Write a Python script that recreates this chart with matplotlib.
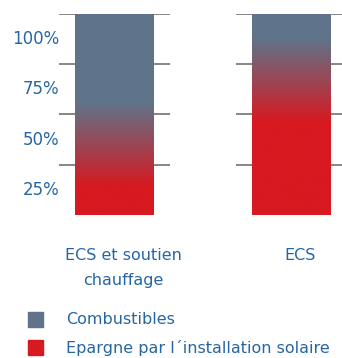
import matplotlib
matplotlib.use("Agg")
import matplotlib.pyplot as plt
import numpy as np
from matplotlib.patches import Rectangle

# share of the need covered by the solar system (%), per installation type
categories = ["ECS et soutien\nchauffage", "ECS"]
solar_share = [35, 67]
blend = [21, 21]          # half-width of the colour fade around the boundary
tick_values = [25, 50, 75, 100]
tick_labels = ["25%", "50%", "75%", "100%"]
legend_labels = ["Combustibles", "Epargne par l\u00b4installation solaire"]

blue = np.array([0x5f, 0x74, 0x8a]) / 255
red = np.array([0xd7, 0x19, 0x20]) / 255
text_col = "#2766a3"
grid_col = "#7d7d7d"

fig = plt.figure(figsize=(3.42, 3.58), dpi=100)
ax = fig.add_axes([0, 1 - 215 / 358, 1, 201 / 358])
ax.set_xlim(-0.647, 1.285)
ax.set_ylim(0, 100)
ax.axis("off")

bar_w = 0.446
y = np.linspace(0, 100, 400)
for i, (s, b) in enumerate(zip(solar_share, blend)):
    # grid segments around each bar
    for v in tick_values:
        ax.plot([i - 0.316, i + 0.316], [v, v], color=grid_col, lw=1.3, zorder=1,
                solid_capstyle="butt")
    t = np.clip((y - (s - b)) / (2 * b), 0, 1)[:, None]
    col = red * (1 - t) + blue * t
    img = np.repeat(col[:, None, :], 2, axis=1)
    ax.imshow(img, extent=[i - bar_w / 2, i + bar_w / 2, 0, 100], origin="lower",
              aspect="auto", interpolation="bilinear", zorder=2)
    ax.text(i + 0.048, -16.5, categories[i], ha="center", va="top", fontsize=11.5,
            color=text_col, linespacing=1.85)

# y labels sit between grid lines
for v, lab in zip(tick_values, tick_labels):
    ax.text(-0.31, v - 12.5, lab, ha="right", va="center", fontsize=12,
            color=text_col)

# legend
for k, (lab, c) in enumerate(zip(legend_labels, [blue, red])):
    yc = 320 + k * 28
    fig.patches.append(Rectangle((28 / 342, 1 - (yc + 7) / 358), 15 / 342, 15 / 358,
                                 transform=fig.transFigure, color=c))
    fig.text(66 / 342, 1 - yc / 358, lab, ha="left", va="center", fontsize=11.5,
             color=text_col)

fig.savefig("out.png", dpi=100)
